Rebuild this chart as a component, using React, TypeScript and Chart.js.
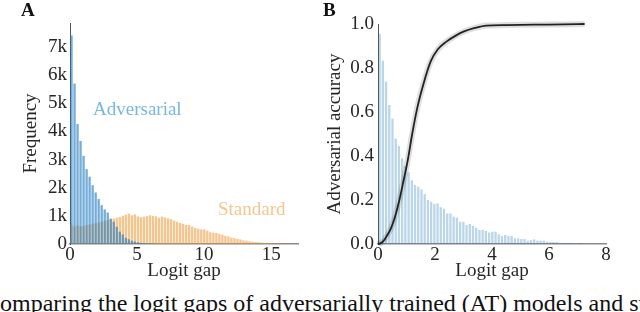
import React, { useEffect, useRef } from 'react';
import { Chart, registerables } from 'chart.js';

Chart.register(...registerables);

// ---------- Panel A data ----------
const BIN_A = 0.225;
const ADV_COUNTS = [7410, 5700, 4260, 3660, 3130, 2660, 2390, 2090, 1830, 1600, 1380, 1230, 1120, 900, 790, 610, 440, 340, 220, 170, 120, 90, 60, 40, 30, 20, 15, 10, 5];
const STD_COUNTS = [680, 620, 660, 630, 640, 670, 690, 720, 740, 760, 790, 820, 850, 880, 900, 930, 960, 1000, 1040, 1080, 1020, 1050, 980, 950, 970, 990, 1020, 1000, 980, 930, 970, 940, 910, 880, 830, 790, 750, 720, 680, 670, 620, 570, 540, 520, 520, 470, 420, 400, 390, 360, 330, 290, 270, 230, 210, 180, 160, 130, 120, 100, 80, 70, 60, 50, 40, 35, 30, 20, 18, 12, 8, 5, 3, 2];
const X_TICKS_A = [0, 5, 10, 15];
const Y_TICKS_A = [0, 1000, 2000, 3000, 4000, 5000, 6000, 7000];
const Y_TICK_LABELS_A = ['0', '1k', '2k', '3k', '4k', '5k', '6k', '7k'];

// ---------- Panel B data ----------
const BIN_B = 0.113;
const HIST_B = [0.955, 0.833, 0.738, 0.632, 0.57, 0.479, 0.445, 0.389, 0.355, 0.326, 0.29, 0.268, 0.26, 0.248, 0.227, 0.2, 0.192, 0.182, 0.185, 0.167, 0.16, 0.139, 0.139, 0.124, 0.12, 0.101, 0.101, 0.086, 0.091, 0.082, 0.074, 0.064, 0.064, 0.059, 0.052, 0.056, 0.056, 0.044, 0.036, 0.041, 0.036, 0.036, 0.026, 0.026, 0.023, 0.023, 0.015, 0.018, 0.021, 0.015, 0.015, 0.015, 0.011, 0.009, 0.009, 0.009, 0.006, 0.005, 0.005, 0.005, 0.003, 0.002, 0.005, 0.001];
const CURVE_X = [0, 0.1, 0.2, 0.3, 0.45, 0.6, 0.75, 0.9, 1.05, 1.2, 1.38, 1.6, 1.85, 2.1, 2.4, 2.7, 3.0, 3.4, 3.8, 4.5, 5.5, 6.5, 7.25];
const CURVE_Y = [0, 0.004, 0.015, 0.035, 0.07, 0.125, 0.2, 0.29, 0.385, 0.5, 0.62, 0.73, 0.83, 0.885, 0.92, 0.945, 0.965, 0.982, 0.993, 0.995, 0.997, 0.998, 1.0];
const X_TICKS_B = [0, 2, 4, 6, 8];
const Y_TICKS_B = [0, 0.2, 0.4, 0.6, 0.8, 1.0];

const FONT = "'Liberation Serif', 'Times New Roman', Times, serif";
const TXT = '#262626';

function binPoints(vals: number[], w: number) {
  return vals.map((v, i) => ({ x: (i + 0.5) * w, y: v }));
}

function ChartA() {
  const ref = useRef<HTMLCanvasElement>(null);
  useEffect(() => {
    const chart = new Chart(ref.current!, {
      type: 'bar',
      data: {
        datasets: [
          {
            label: 'Adversarial',
            data: binPoints(ADV_COUNTS, BIN_A) as any,
            backgroundColor: 'rgba(30,122,192,0.62)',
            grouped: false,
            barPercentage: 0.78,
            categoryPercentage: 1,
            order: 0,
          } as any,
          {
            label: 'Standard',
            data: binPoints(STD_COUNTS, BIN_A) as any,
            backgroundColor: 'rgba(236,150,50,0.55)',
            grouped: false,
            barPercentage: 0.78,
            categoryPercentage: 1,
            order: 1,
          } as any,
        ],
      },
      options: {
        animation: false,
        responsive: false,
        devicePixelRatio: 1,
        layout: { padding: { top: 23, right: 22, left: 0, bottom: 0 } },
        plugins: { legend: { display: false }, tooltip: { enabled: false } },
        scales: {
          x: {
            type: 'linear',
            min: 0,
            max: 17,
            offset: false,
            grid: { display: false, drawTicks: false },
            border: { display: true, color: '#8a8a8a', width: 1.5 },
            ticks: { padding: 0, color: TXT, font: { family: FONT, size: 19 }, maxRotation: 0 },
            afterBuildTicks: (s: any) => { s.ticks = X_TICKS_A.map((v) => ({ value: v })); },
            afterFit: (s: any) => { s.height = 46; },
            title: { display: true, text: 'Logit gap', color: TXT, font: { family: FONT, size: 19 }, padding: { top: 0, bottom: 7.5 } },
          } as any,
          y: {
            type: 'linear',
            min: 0,
            max: 7850,
            grid: { display: false, drawTicks: false },
            border: { display: true, color: '#555', width: 1 },
            ticks: {
              padding: 3,
              color: TXT,
              font: { family: FONT, size: 19 },
              callback: (v: any) => Y_TICK_LABELS_A[Y_TICKS_A.indexOf(Number(v))],
            },
            afterBuildTicks: (s: any) => { s.ticks = Y_TICKS_A.map((v) => ({ value: v })); },
            afterFit: (s: any) => { s.width = 70; },
            title: { display: true, text: 'Frequency', color: TXT, font: { family: FONT, size: 19 }, padding: { top: 20, bottom: 0 } },
          } as any,
        },
      },
    });
    return () => chart.destroy();
  }, []);
  return <canvas ref={ref} width={320} height={290} style={{ position: 'absolute', left: 0, top: 0, width: 320, height: 290 }} />;
}

function ChartB() {
  const ref = useRef<HTMLCanvasElement>(null);
  useEffect(() => {
    const curve = CURVE_X.map((x, i) => ({ x, y: CURVE_Y[i] }));
    const chart = new Chart(ref.current!, {
      type: 'bar',
      data: {
        datasets: [
          {
            type: 'line',
            label: 'Accuracy',
            data: curve as any,
            borderColor: '#222',
            borderWidth: 1.8,
            pointRadius: 0,
            cubicInterpolationMode: 'monotone',
            clip: 6,
            order: 0,
          } as any,
          {
            type: 'line',
            label: 'Band',
            data: curve as any,
            borderColor: 'rgba(0,0,0,0.13)',
            borderWidth: 6,
            pointRadius: 0,
            cubicInterpolationMode: 'monotone',
            clip: 6,
            order: 1,
          } as any,
          {
            type: 'bar',
            label: 'Histogram',
            data: binPoints(HIST_B, BIN_B) as any,
            backgroundColor: 'rgba(31,119,180,0.3)',
            grouped: false,
            barPercentage: 0.72,
            categoryPercentage: 1,
            order: 2,
          } as any,
        ],
      },
      options: {
        animation: false,
        responsive: false,
        devicePixelRatio: 1,
        layout: { padding: { top: 24, right: 34, left: 0, bottom: 0 } },
        plugins: { legend: { display: false }, tooltip: { enabled: false } },
        scales: {
          x: {
            type: 'linear',
            min: 0,
            max: 8,
            offset: false,
            grid: { display: false, drawTicks: false },
            border: { display: true, color: '#8a8a8a', width: 1.5 },
            ticks: { padding: 0, color: TXT, font: { family: FONT, size: 19 }, maxRotation: 0 },
            afterBuildTicks: (s: any) => { s.ticks = X_TICKS_B.map((v) => ({ value: v })); },
            afterFit: (s: any) => { s.height = 46; },
            title: { display: true, text: 'Logit gap', color: TXT, font: { family: FONT, size: 19 }, padding: { top: 0, bottom: 7.5 } },
          } as any,
          y: {
            type: 'linear',
            min: 0,
            max: 1,
            grid: { display: false, drawTicks: false },
            border: { display: true, color: '#555', width: 1 },
            ticks: {
              padding: 4,
              color: TXT,
              font: { family: FONT, size: 19 },
              callback: (v: any) => Number(v).toFixed(1),
            },
            afterBuildTicks: (s: any) => { s.ticks = Y_TICKS_B.map((v) => ({ value: v })); },
            afterFit: (s: any) => { s.width = 58; },
            title: { display: true, text: 'Adversarial accuracy', color: TXT, font: { family: FONT, size: 19 }, padding: { top: 4, bottom: 0 } },
          } as any,
        },
      },
    });
    return () => chart.destroy();
  }, []);
  return <canvas ref={ref} width={320} height={290} style={{ position: 'absolute', left: 320, top: 0, width: 320, height: 290 }} />;
}

export default function App() {
  const letter: React.CSSProperties = {
    position: 'absolute', top: 0, fontFamily: FONT, fontWeight: 'bold', fontSize: 19, lineHeight: '19px', color: '#111',
  };
  const lab: React.CSSProperties = {
    position: 'absolute', fontFamily: FONT, fontSize: 19, lineHeight: '19px', whiteSpace: 'nowrap',
  };
  return (
    <div style={{ position: 'fixed', left: 0, top: 0, width: 640, height: 312, overflow: 'hidden', background: '#fff' }}>
      <ChartA />
      <ChartB />
      <div style={{ ...letter, left: 21 }}>A</div>
      <div style={{ ...letter, left: 323 }}>B</div>
      <div style={{ ...lab, left: 93, top: 99, color: '#7ab6df' }}>Adversarial</div>
      <div style={{ ...lab, left: 218, top: 199, color: '#f3c58f' }}>Standard</div>
      <div style={{ position: 'absolute', left: -16, top: 291, fontFamily: FONT, fontSize: 24, lineHeight: '24px', whiteSpace: 'nowrap', color: '#111' }}>
        Comparing the logit gaps of adversarially trained (AT) models and standard models.
      </div>
    </div>
  );
}
